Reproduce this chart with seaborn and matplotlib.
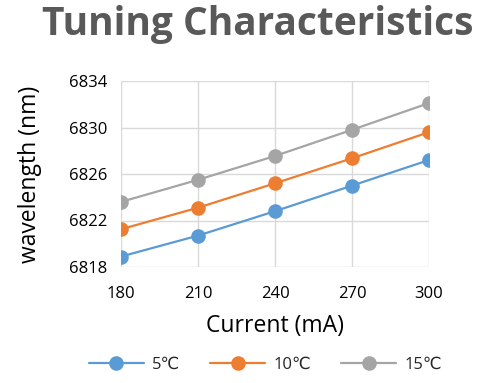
import matplotlib
matplotlib.use("Agg")
import matplotlib.pyplot as plt
import seaborn as sns
import pandas as pd

current = [180, 210, 240, 270, 300]
series_names = ["5℃", "10℃", "15℃"]
wl_5 = [6818.9, 6820.7, 6822.8, 6825.0, 6827.2]
wl_10 = [6821.25, 6823.1, 6825.2, 6827.35, 6829.6]
wl_15 = [6823.6, 6825.5, 6827.55, 6829.8, 6832.1]
colors = ["#5B9BD5", "#ED7D31", "#A5A5A5"]
y_ticks = [6818, 6822, 6826, 6830, 6834]

sns.set_theme(style="white")
plt.rcParams['font.family'] = ['Open Sans', 'DejaVu Sans']

df = pd.DataFrame({
    "Current": current * 3,
    "wavelength": wl_5 + wl_10 + wl_15,
    "series": [series_names[0]] * 5 + [series_names[1]] * 5 + [series_names[2]] * 5,
})

fig = plt.figure(figsize=(4.81, 3.83), dpi=100)
ax = fig.add_axes([121/481, 1 - 267/383, (429 - 121)/481, (267 - 81)/383])

sns.lineplot(data=df, x="Current", y="wavelength", hue="series",
             hue_order=series_names, palette=colors, marker="o",
             markersize=10.5, markeredgewidth=0, linewidth=1.6, ax=ax,
             legend=True)

ax.set_xlim(180, 300)
ax.set_ylim(6818, 6834)
ax.set_xticks(current)
ax.set_yticks(y_ticks)
ax.grid(True, color="#d9d9d9", linewidth=1)
for s in ax.spines.values():
    s.set_visible(False)
ax.tick_params(axis="y", labelsize=12, colors="black", length=0, pad=10)
ax.tick_params(axis="x", labelsize=12, colors="black", length=0, pad=14)
for lbl in ax.get_xticklabels() + ax.get_yticklabels():
    lbl.set_clip_on(False)
ax.set_xlabel("Current (mA)", fontsize=16.5, color="black")
ax.set_ylabel("wavelength (nm)", fontsize=16.5, color="black")
ax.xaxis.set_label_coords(0.5, (267 - 314) / 186)
ax.yaxis.set_label_coords((42 - 121) / 308, 0.5)

fig.text(0.535, 0.935, "Tuning Characteristics", fontsize=28, fontweight="bold",
         color="#595959", ha="center", va="center")

handles, labels = ax.get_legend_handles_labels()
ax.legend(handles, labels, loc="center", ncol=3, frameon=False, fontsize=12,
          handlelength=3.3, columnspacing=1.8, handletextpad=0.5)
ax.get_legend().set_bbox_to_anchor((0.552, 0.047), transform=fig.transFigure)

fig.savefig("out.png", dpi=100, facecolor="white")
